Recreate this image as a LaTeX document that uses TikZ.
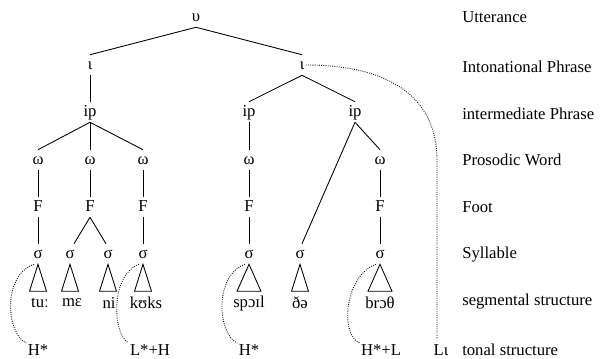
\documentclass[tikz,border=0pt]{standalone}
\usepackage{fontspec}
\setmainfont{Liberation Serif}
\begin{document}
\begin{tikzpicture}[x=0.75pt,y=-0.75pt,
  lab/.style={inner xsep=1pt,inner ysep=1.75pt,text height=9pt,text depth=2.5pt,font=\fontsize{12.5}{14}\selectfont},
  txt/.style={inner sep=1pt,font=\fontsize{12.5}{14}\selectfont},
  rlab/.style={anchor=west,inner sep=0pt,font=\fontsize{12.5}{14}\selectfont},
  br/.style={line width=0.65pt},
  dots/.style={densely dotted,line width=0.65pt},
  tri/.style={line width=0.65pt}]
\useasboundingbox (0,0) rectangle (603,358);
% level labels
\node[rlab] (L1) at (462,17) {Utterance};
\node[rlab] (L2) at (462,67) {Intonational Phrase};
\node[rlab] (L3) at (462,114) {intermediate Phrase};
\node[rlab] (L4) at (462,160) {Prosodic Word};
\node[rlab] (L5) at (462,207) {Foot};
\node[rlab] (L6) at (462,255) {Syllable};
\node[rlab] (L7) at (462,302) {segmental structure};
\node[rlab] (L8) at (462,350) {tonal structure};
% tree nodes
\node[lab] (U) at (196,17) {υ};
\node[lab] (I1) at (90,65) {ι};
\node[lab] (I2) at (302,65) {ι};
\node[lab] (P1) at (90,112) {ip};
\node[lab] (P2) at (249,112) {ip};
\node[lab] (P3) at (355,112) {ip};
\node[lab] (W1) at (38,160) {ω};
\node[lab] (W2) at (90,160) {ω};
\node[lab] (W3) at (143,160) {ω};
\node[lab] (W4) at (249,160) {ω};
\node[lab] (W5) at (380,160) {ω};
\node[lab] (F1) at (38,207) {F};
\node[lab] (F2) at (90,207) {F};
\node[lab] (F3) at (143,207) {F};
\node[lab] (F4) at (249,207) {F};
\node[lab] (F5) at (380,207) {F};
\node[lab] (S1) at (38,254) {σ};
\node[lab] (S2) at (70,254) {σ};
\node[lab] (S3) at (108,254) {σ};
\node[lab] (S4) at (143,254) {σ};
\node[lab] (S5) at (249,254) {σ};
\node[lab] (S6) at (300,254) {σ};
\node[lab] (S7) at (380,254) {σ};
% segments
\node[txt] (G1) at (40,303) {tuː};
\node[txt] (G2) at (72,303) {mɛ};
\node[txt] (G3) at (109,303) {ni};
\node[txt] (G4) at (146,303) {kʊks};
\node[txt] (G5) at (249,303) {spɔɪl};
\node[txt] (G6) at (300,303) {ðə};
\node[txt] (G7) at (380,303) {brɔθ};
% tones
\node[txt] (T1) at (38,350) {H*};
\node[txt] (T2) at (150,350) {L*+H};
\node[txt] (T3) at (249,350) {H*};
\node[txt] (T4) at (381,350) {H*+L};
\node[txt] (T5) at (441,350) {Lι};
% branches
\draw[br] (U.south) -- (I1.north);
\draw[br] (U.south) -- (I2.north);
\draw[br] (I1.south) -- (P1.north);
\draw[br] (I2.south) -- (P2.north);
\draw[br] (I2.south) -- (P3.north);
\draw[br] (P1.south) -- (W1.north);
\draw[br] (P1.south) -- (W2.north);
\draw[br] (P1.south) -- (W3.north);
\draw[br] (P2.south) -- (W4.north);
\draw[br] (P3.south) -- (W5.north);
\draw[br] (P3.south) -- ([xshift=1.5pt]S6.north);
\foreach \i in {1,...,5} {\draw[br] (W\i.south) -- (F\i.north);}
\draw[br] (F1.south) -- (S1.north);
\draw[br] (F2.south) -- ([xshift=3pt]S2.north);
\draw[br] (F2.south) -- ([xshift=-1.5pt]S3.north);
\draw[br] (F3.south) -- (S4.north);
\draw[br] (F4.south) -- (S5.north);
\draw[br] (F5.south) -- (S7.north);
% triangles
\foreach \s/\w in {S1/8.5,S2/8.5,S3/8.5,S4/8.5,S6/8.5,S5/12,S7/12} {
  \draw[tri] (\s.south) -- ++(-\w,27) -- ++(2*\w,0) -- cycle;
}
% dotted tonal associations
\draw[dots] ([xshift=-3pt]S1.south) .. controls +(-32,11) and +(-20,-9) .. (T1.north west);
\draw[dots] ([xshift=-3pt]S4.south) .. controls +(-29,11) and +(-16,-9) .. (T2.north west);
\draw[dots] ([xshift=-3pt]S5.south) .. controls +(-31,11) and +(-20,-9) .. (T3.north west);
\draw[dots] ([xshift=-3pt]S7.south) .. controls +(-31,11) and +(-20,-9) .. (T4.north west);
\draw[dots] (I2.east) .. controls +(94,0) and +(0,-55) .. (437,160) -- (437,339);
\end{tikzpicture}
\end{document}
